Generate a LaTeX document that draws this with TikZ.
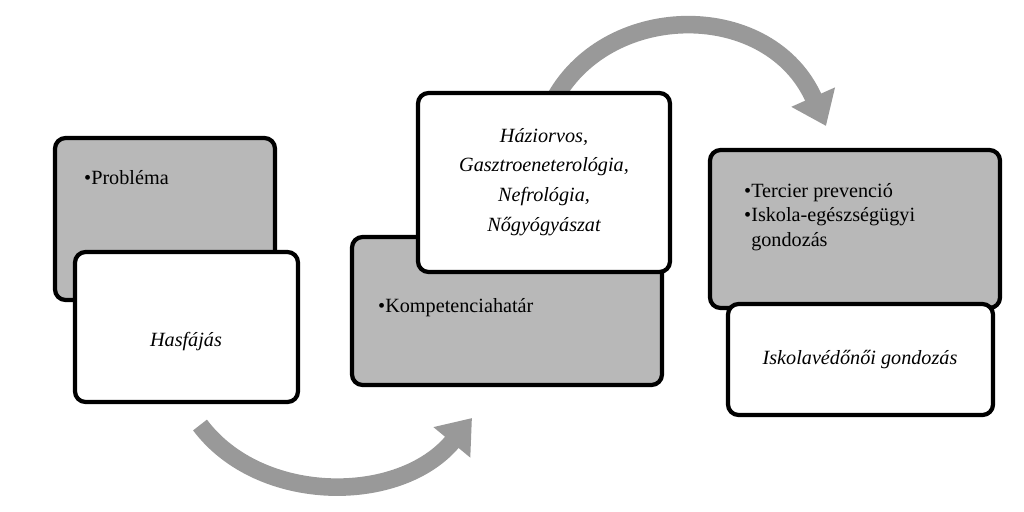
\documentclass[tikz,border=0pt]{standalone}
\usepackage{fontspec}
\setmainfont{Liberation Serif}
\usetikzlibrary{arrows.meta}
\begin{document}
\begin{tikzpicture}[x=0.02cm,y=-0.02cm,
 gbox/.style={draw=black,line width=2.4pt,rounded corners=6pt,fill=black!28},
 wbox/.style={draw=black,line width=2.4pt,rounded corners=6pt,fill=white},
 arr/.style={draw=black!40,line width=10pt,-{Triangle[length=18pt,width=26pt]}},
 txt/.style={font=\fontsize{11.5}{14}\selectfont,anchor=west,align=left}]
\useasboundingbox (0,0) rectangle (1024,511);
\draw[arr] (200,425) .. controls (260,505) and (400,505) .. (472,418);
\draw[arr] (555,98) .. controls (610,0) and (770,0) .. (826,126);
\draw[gbox] (55,138) rectangle (275,300);
\draw[wbox] (75,252) rectangle (298,402);
\node[txt] (p) at (78,178) {•Probléma};
\node[font=\fontsize{11.5}{14}\selectfont\itshape] (h) at (186,342) {Hasfájás};
\draw[gbox] (352,237) rectangle (662,385);
\draw[wbox] (418,93) rectangle (670,272);
\node[txt] (k) at (372,308) {•Kompetenciahatár};
\node[font=\fontsize{11.5}{17}\selectfont\itshape,align=center] (d) at (544,182) {Háziorvos,\\Gasztroeneterológia,\\Nefrológia,\\Nőgyógyászat};
\draw[gbox] (710,150) rectangle (1000,308);
\draw[wbox] (728,304) rectangle (993,415);
\node[txt,anchor=north west] (t) at (738,177) {•Tercier prevenció\\•Iskola-egészségügyi\\\phantom{•}gondozás};
\node[font=\fontsize{11.5}{14}\selectfont\itshape] (i) at (860,360) {Iskolavédőnői gondozás};
\end{tikzpicture}
\end{document}
